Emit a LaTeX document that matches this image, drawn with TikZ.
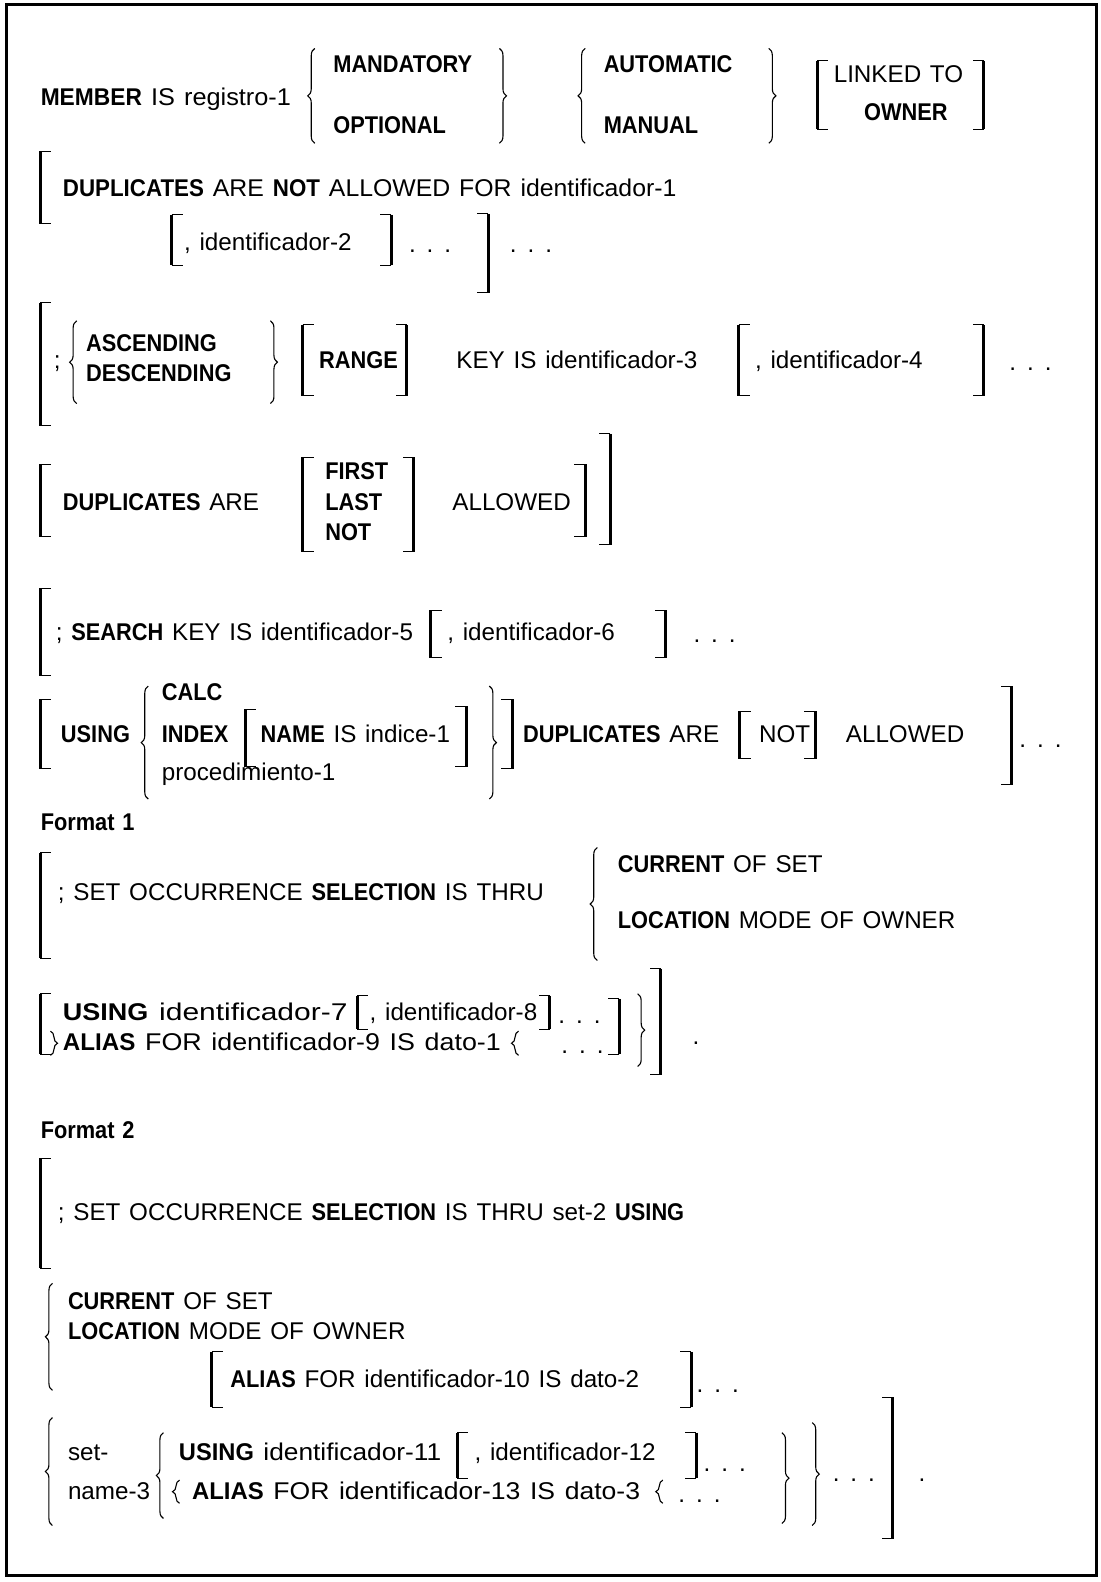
\documentclass[tikz,border=0pt]{standalone}
\usepackage{fontspec}
\setmainfont{Liberation Sans}[WordSpace=1.3,BoldFeatures={FakeStretch=0.9}]
\usetikzlibrary{decorations.pathreplacing}
\newcommand\LB[3]{\draw[bar] (#1,#2) -- (#1,#3);\draw[tick] (#1,#2) -- ++(11,0) (#1,#3) -- ++(11,0);}
\newcommand\RB[3]{\draw[bar] (#1,#2) -- (#1,#3);\draw[tick] (#1,#2) -- ++(-11,0) (#1,#3) -- ++(-11,0);}
\newcommand\LC[3]{\draw[brc] (#1,#3) -- (#1,#2);}
\newcommand\RC[3]{\draw[brc] (#1,#2) -- (#1,#3);}
\newcommand\fw[2]{\resizebox{#1}{\height}{#2}}
\begin{document}
\begin{tikzpicture}[x=0.5pt,y=-0.5pt,
  bar/.style={line width=1.5pt},
  tick/.style={line width=0.5pt},
  brc/.style={line width=0.55pt,decorate,decoration={brace,amplitude=3.5pt,aspect=0.5}},
  t/.style={anchor=base west,inner sep=0pt,font=\fontsize{12}{14}\selectfont}]
\useasboundingbox (0,0) rectangle (1091,1568);
\draw[line width=1.5pt] (6,4) rectangle (1087,1562);
% Row 1
\node[t] (r1a) at (40,105) {\fw{124pt}{\textbf{MEMBER} IS registro-1}};
\LC{312}{48}{142}
\node[t] (r1b) at (330,72) {\textbf{MANDATORY}};
\node[t] (r1c) at (330,132) {\textbf{OPTIONAL}};
\RC{495}{48}{142}
\LC{580}{48}{142}
\node[t] (r1d) at (598,72) {\textbf{AUTOMATIC}};
\node[t] (r1e) at (598,132) {\textbf{MANUAL}};
\RC{762}{48}{142}
\LB{810}{60}{128}
\node[t] (r1f) at (826,82) {LINKED TO};
\node[t] (r1g) at (856,119) {\textbf{OWNER}};
\RB{975}{60}{128}
% Row 2-3
\LB{40}{150}{222}
\node[t] (r2a) at (62,195) {\fw{304pt}{\textbf{DUPLICATES} ARE \textbf{NOT} ALLOWED FOR identificador-1}};
\LB{170}{213}{263}
\node[t] (r3a) at (182,248) {, identificador-2};
\RB{388}{213}{263}
\node[t] (r3b) at (405,250) {. . .};
\RB{484}{212}{290}
\node[t] (r3c) at (505,250) {. . .};
% Row 4
\LB{40}{300}{422}
\node[t] (r4a) at (53,365) {;};
\LC{76}{318}{400}
\node[t] (r4b) at (85,348) {\textbf{ASCENDING}};
\node[t] (r4c) at (85,378) {\textbf{DESCENDING}};
\RC{268}{318}{400}
\LB{300}{322}{392}
\node[t] (r4d) at (316,365) {\textbf{RANGE}};
\RB{403}{322}{392}
\node[t] (r4e) at (452,365) {KEY IS identificador-3};
\LB{732}{322}{392}
\node[t] (r4f) at (748,365) {, identificador-4};
\RB{975}{322}{392}
\node[t] (r4g) at (1000,367) {. . .};
% Row 5
\LB{40}{460}{532}
\node[t] (r5a) at (62,506) {\textbf{DUPLICATES} ARE};
\LB{300}{453}{547}
\node[t] (r5b) at (322,475) {\textbf{FIRST}};
\node[t] (r5c) at (322,506) {\textbf{LAST}};
\node[t] (r5d) at (322,536) {\textbf{NOT}};
\RB{410}{453}{547}
\node[t] (r5e) at (448,506) {ALLOWED};
\RB{580}{460}{532}
\RB{605}{430}{540}
% Row 6
\LB{40}{583}{670}
\node[t] (r6a) at (55,635) {; \textbf{SEARCH} KEY IS identificador-5};
\LB{427}{605}{652}
\node[t] (r6b) at (443,635) {, identificador-6};
\RB{660}{605}{652}
\node[t] (r6c) at (687,637) {. . .};
% Row 7
\LB{40}{693}{762}
\node[t] (r7a) at (60,736) {\textbf{USING}};
\LC{147}{680}{792}
\node[t] (r7b) at (160,694) {\textbf{CALC}};
\node[t] (r7c) at (160,736) {\textbf{INDEX}};
\node[t] (r7d) at (160,774) {procedimiento-1};
\LB{243}{703}{760}
\node[t] (r7e) at (258,736) {\textbf{NAME} IS indice-1};
\RB{462}{700}{760}
\RC{485}{680}{792}
\RB{508}{693}{762}
\node[t] (r7f) at (518,736) {\textbf{DUPLICATES} ARE};
\LB{733}{705}{752}
\node[t] (r7g) at (752,736) {NOT};
\RB{808}{705}{752}
\node[t] (r7h) at (838,736) {ALLOWED};
\RB{1003}{680}{778}
\node[t] (r7i) at (1010,741) {. . .};
% Format 1
\node[t] (f1) at (40,823) {\textbf{Format 1}};
\LB{40}{845}{950}
\node[t] (r8a) at (57,893) {; SET OCCURRENCE \textbf{SELECTION} IS THRU};
\LC{592}{840}{952}
\node[t] (r8b) at (612,865) {\textbf{CURRENT} OF SET};
\node[t] (r8c) at (612,920) {\textbf{LOCATION} MODE OF OWNER};
% Row 9
\LB{40}{985}{1045}
\node[t] (r9a) at (62,1011) {\fw{141pt}{\textbf{USING} identificador-7}};
\LB{354}{987}{1020}
\node[t] (r9b) at (366,1011) {, identificador-8};
\RB{545}{987}{1020}
\node[t] (r9c) at (553,1014) {. . .};
\RC{50}{1022}{1046}
\node[t] (r9d) at (62,1041) {\fw{217pt}{\textbf{ALIAS} FOR identificador-9 IS dato-1}};
\LC{514}{1022}{1046}
\node[t] (r9e) at (556,1044) {. . .};
\RB{614}{990}{1045}
\RC{632}{985}{1057}
\RB{655}{960}{1065}
\node[t] (r9f) at (686,1035) {.};
% Format 2
\node[t] (f2) at (40,1128) {\textbf{Format 2}};
\LB{40}{1148}{1257}
\node[t] (r10a) at (57,1210) {; SET OCCURRENCE \textbf{SELECTION} IS THRU set-2 \textbf{USING}};
% Row 11
\LC{52}{1272}{1378}
\node[t] (r11a) at (67,1298) {\textbf{CURRENT} OF SET};
\node[t] (r11b) at (67,1328) {\textbf{LOCATION} MODE OF OWNER};
\LB{210}{1340}{1395}
\node[t] (r11c) at (228,1375) {\textbf{ALIAS} FOR identificador-10 IS dato-2};
\RB{685}{1340}{1395}
\node[t] (r11d) at (690,1380) {. . .};
% Row 12
\LC{52}{1405}{1512}
\node[t] (r12a) at (67,1448) {set-};
\node[t] (r12b) at (67,1486) {name-3};
\LC{162}{1420}{1505}
\node[t] (r12c) at (177,1448) {\fw{130pt}{\textbf{USING} identificador-11}};
\LB{453}{1420}{1465}
\node[t] (r12d) at (470,1448) {, identificador-12};
\RB{690}{1420}{1465}
\node[t] (r12e) at (697,1458) {. . .};
\LC{178}{1467}{1490}
\node[t] (r12f) at (190,1486) {\fw{222pt}{\textbf{ALIAS} FOR identificador-13 IS dato-3}};
\LC{657}{1467}{1490}
\node[t] (r12g) at (672,1489) {. . .};
\RC{775}{1420}{1510}
\RC{805}{1410}{1512}
\node[t] (r12h) at (825,1468) {. . .};
\RB{885}{1385}{1525}
\node[t] (r12i) at (910,1468) {.};
\end{tikzpicture}
\end{document}
